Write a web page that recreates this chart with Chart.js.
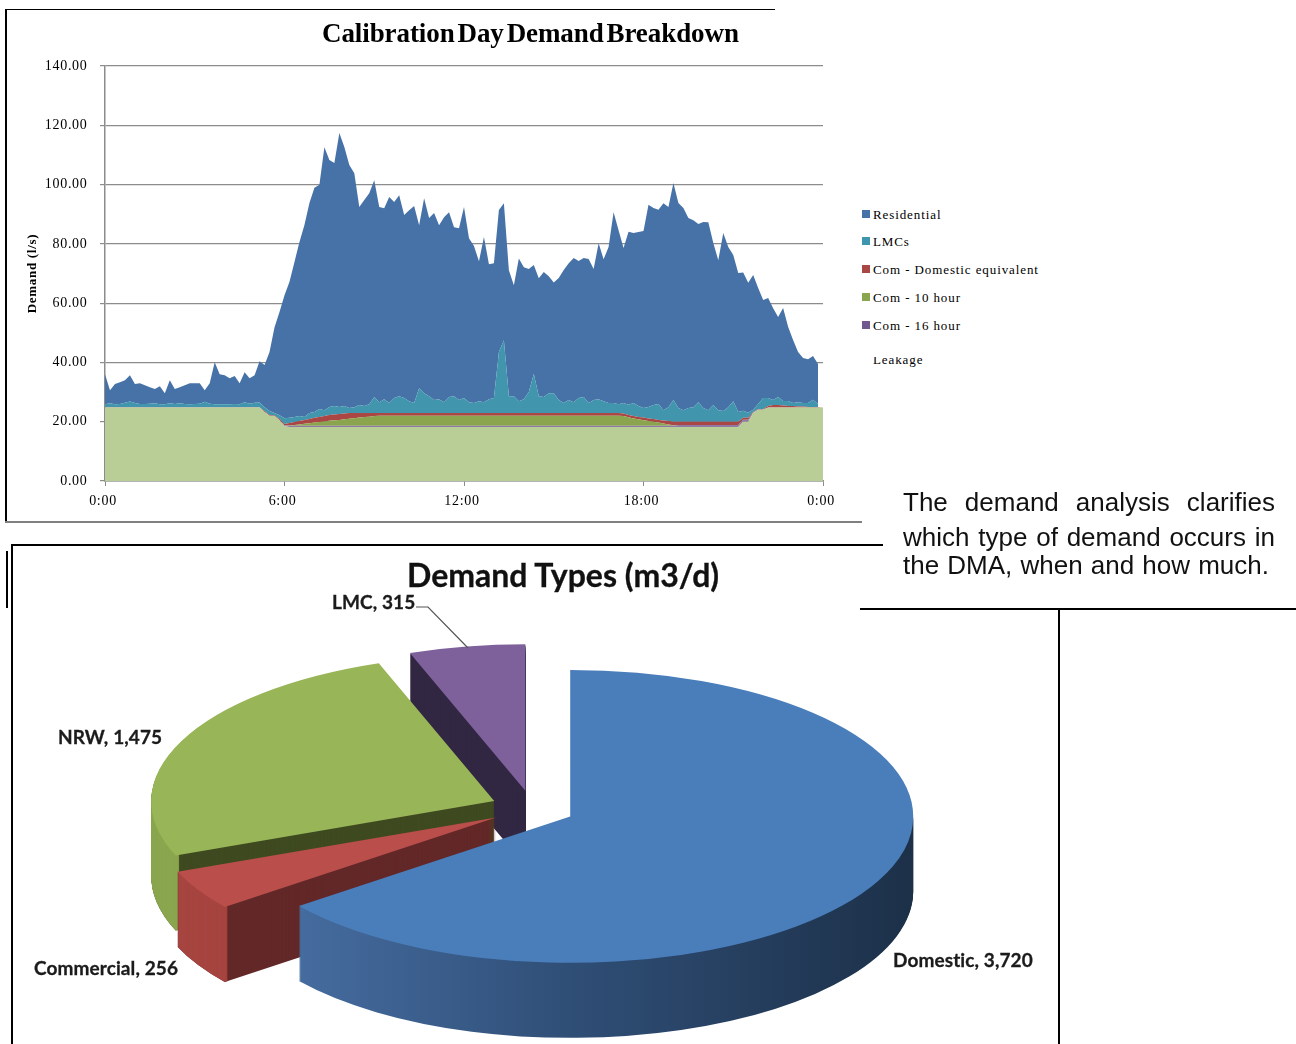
<!DOCTYPE html>
<html>
<head>
<meta charset="utf-8">
<title>Demand analysis</title>
<script src="https://cdn.jsdelivr.net/npm/chart.js"></script>
<style>
  html, body { margin: 0; padding: 0; background: #fff; }
  #page { position: relative; width: 1296px; height: 1044px; overflow: hidden; }
  #page canvas { position: absolute; display: block; }
  .rule { position: absolute; background: #000; }
  .txt { position: absolute; white-space: nowrap; line-height: 1; }
  .serif { font-family: "Liberation Serif", serif; color: #000; }
  .head { font-weight: bold; font-size: 27px; word-spacing: -3.8px; letter-spacing: -0.08px; }
  .pieTitle { font-family: Lato, sans-serif; font-weight: bold; font-size: 32px; color: #111; -webkit-text-stroke: 0.3px #111; }
  .pieLabel { font-family: Lato, sans-serif; font-weight: bold; font-size: 19px; letter-spacing: 0.1px; color: #1b1b1b; -webkit-text-stroke: 0.3px #1b1b1b; }
  .legend { font-size: 13px; letter-spacing: 0.9px; }
  .swatch { position: absolute; width: 8px; height: 8px; }
  .para { position: absolute; left: 903px; font-family: "Liberation Sans", sans-serif; font-size: 26px; line-height: 30px; color: #111; text-align: justify; text-align-last: justify; white-space: normal; }
</style>
</head>
<body>
<div id="page">
  <canvas id="areaChart" width="862" height="522" style="left:0;top:0"></canvas>
  <canvas id="pieChart" width="1296" height="504" style="left:0;top:540px"></canvas>

  <div class="rule" style="left:5px;top:9px;width:770px;height:1px"></div>
  <div class="rule" style="left:5px;top:9px;width:1.5px;height:513px"></div>
  <div class="rule" style="left:5px;top:521px;width:857px;height:1.5px;background:#808080"></div>
  <div class="rule" style="left:11px;top:544px;width:872px;height:1.5px"></div>
  <div class="rule" style="left:11px;top:544px;width:1.5px;height:500px"></div>
  <div class="rule" style="left:6px;top:551px;width:1.5px;height:57px"></div>
  <div class="rule" style="left:860px;top:608px;width:436px;height:1.5px"></div>
  <div class="rule" style="left:1058px;top:608px;width:1.5px;height:436px"></div>

  <div class="txt serif head" style="left:322px;top:20px">Calibration Day Demand Breakdown</div>
  <div id="legend"></div>
  <div class="txt pieTitle" style="left:407px;top:559px">Demand Types (m3/d)</div>
  <div id="pieLabels"></div>
  <svg style="position:absolute;left:0;top:0" width="1296" height="1044">
    <polyline points="416,607 428,607 468,648" fill="none" stroke="#555" stroke-width="1.2"/>
  </svg>

  <div class="para" style="top:487px;width:372px">The demand analysis clarifies</div>
  <div class="para" style="top:522px;width:372px">which type of demand occurs in</div>
  <div class="para" style="top:550px;width:366px">the DMA, when and how much.</div>
</div>

<script>
// values every 10 minutes, l/s, stack order leakage -> residential
const seriesNames = ['Residential', 'LMCs', 'Com - Domestic equivalent', 'Com - 10 hour', 'Com - 16 hour', 'Leakage'];
const seriesColors = ['#4672a7', '#4196ae', '#aa4643', '#8ba54e', '#8f7aa6', '#b9cd96'];
const swatchColors = ['#4572a7', '#3d96ae', '#aa4643', '#89a54e', '#71588f', null];

const residential = [
  10.1,4.4,6.8,7.3,7.6,8.9,6.4,7.0,6.3,5.5,
  4.8,6.1,3.7,7.8,5.0,5.4,6.3,7.1,7.0,6.9,
  3.9,6.9,14.2,10.1,9.8,8.8,9.4,7.1,10.1,8.6,
  9.3,13.9,14.2,19.9,29.0,34.8,41.5,45.9,52.3,58.7,
  64.8,70.9,75.6,75.6,88.7,83.3,82.0,92.4,87.4,82.0,
  78.9,66.8,69.5,71.2,73.2,65.8,64.4,69.5,66.1,67.8,
  61.7,64.4,66.5,55.0,65.8,60.1,63.1,58.7,62.4,62.4,
  57.0,58.0,64.4,55.3,53.0,47.2,55.7,45.5,45.5,47.9,
  46.2,42.5,37.4,48.2,44.5,41.5,36.8,39.8,42.2,39.5,
  37.4,41.2,44.9,46.2,48.6,46.2,46.9,48.6,44.2,52.6,
  47.9,52.6,64.4,58.7,52.3,58.4,57.4,58.7,59.7,68.2,
  66.5,65.5,69.8,67.5,73.2,69.2,68.2,64.1,63.1,60.1,
  62.8,63.4,54.7,50.6,60.1,54.0,49.3,46.9,46.6,43.9,
  45.5,39.1,33.1,33.7,31.0,27.0,31.4,25.0,21.3,16.9,
  15.2,14.8,14.8,13.5,null
];
const lmcs = [
  1.0,1.3,1.0,1.1,1.5,1.9,1.4,1.1,1.1,1.2,
  1.3,1.0,1.0,1.3,1.1,1.3,1.1,1.0,1.1,1.2,
  1.8,1.2,1.0,1.0,1.0,1.0,1.1,1.0,1.7,1.2,
  1.5,1.6,1.3,1.3,0.8,1.3,2.0,1.7,1.7,1.7,
  1.0,2.0,2.0,2.7,2.0,2.7,2.9,2.4,2.5,1.7,
  2.0,2.7,2.4,3.0,5.4,3.7,4.7,3.4,5.1,5.7,
  5.1,4.0,3.4,8.4,6.7,5.7,4.4,4.7,3.7,5.4,
  5.7,4.4,5.1,3.7,3.4,4.0,3.7,4.7,5.1,20.6,
  24.6,5.7,5.7,4.0,4.7,7.1,13.2,5.7,5.4,6.7,
  6.7,4.4,3.4,4.4,3.7,5.1,5.4,3.4,4.4,4.7,
  4.0,3.4,3.4,3.0,3.5,3.4,4.4,3.7,3.2,3.9,
  4.7,5.4,3.5,4.7,7.3,4.6,3.9,4.6,4.9,6.6,
  4.6,3.9,5.6,3.9,3.6,4.9,6.9,3.3,2.4,1.7,
  0.7,1.7,3.7,2.7,1.7,2.7,1.5,1.7,1.0,1.5,
  1.2,1.3,2.4,1.0,null
];
const comDomestic = [
  0.1,0.1,0.1,0.1,0.1,0.1,0.1,0.1,0.1,0.1,
  0.1,0.1,0.1,0.1,0.1,0.1,0.1,0.1,0.1,0.1,
  0.1,0.1,0.1,0.1,0.1,0.1,0.1,0.1,0.1,0.1,
  0.1,0.1,0.3,0.3,0.2,0.4,0.4,0.9,1.0,1.1,
  1.3,1.4,1.6,1.7,1.8,2.0,1.9,2.0,2.0,1.9,
  1.7,1.5,1.3,1.2,1.0,0.9,0.9,0.9,0.9,0.9,
  0.9,0.9,0.9,0.9,0.9,0.9,0.9,0.9,0.9,0.9,
  0.9,0.9,0.9,0.9,0.9,0.9,0.9,0.9,0.9,0.9,
  0.9,0.9,0.9,0.9,0.9,0.9,0.9,0.9,0.9,0.9,
  0.9,0.9,0.9,0.9,0.9,0.9,0.9,0.9,0.9,0.9,
  0.9,0.9,0.9,0.9,0.9,0.8,0.8,0.8,0.9,0.9,
  0.9,0.9,1.0,1.1,1.2,1.1,1.1,1.1,1.1,1.1,
  1.1,1.1,1.1,1.1,1.1,1.1,1.1,1.1,0.6,0.6,
  0.2,0.2,0.2,0.5,0.8,0.8,0.7,0.5,0.5,0.3,
  0.3,0.2,0.2,0.2,0
];
const com10 = [
  0,0,0,0,0,0,0,0,0,0,
  0,0,0,0,0,0,0,0,0,0,
  0,0,0,0,0,0,0,0,0,0,
  0,0,0,0,0,0,0,0.1,0.3,0.5,
  0.7,0.9,1.1,1.3,1.5,1.7,1.9,2.0,2.2,2.4,
  2.6,2.8,3.0,3.1,3.3,3.4,3.4,3.4,3.4,3.4,
  3.4,3.4,3.4,3.4,3.4,3.4,3.4,3.4,3.4,3.4,
  3.4,3.4,3.4,3.4,3.4,3.4,3.4,3.4,3.4,3.4,
  3.4,3.4,3.4,3.4,3.4,3.4,3.4,3.4,3.4,3.4,
  3.4,3.4,3.4,3.4,3.4,3.4,3.4,3.4,3.4,3.4,
  3.4,3.4,3.4,3.4,3.3,2.9,2.5,2.2,1.9,1.6,
  1.4,1.1,0.8,0.5,0.2,0,0,0,0,0,
  0,0,0,0,0,0,0,0,0,0,
  0,0,0,0,0,0,0,0,0,0,
  0,0,0,0,0
];
const com16 = [
  0,0,0,0,0,0,0,0,0,0,
  0,0,0,0,0,0,0,0,0,0,
  0,0,0,0,0,0,0,0,0,0,
  0,0,0,0,0,0,0.3,0.4,0.4,0.4,
  0.4,0.4,0.4,0.4,0.4,0.4,0.4,0.4,0.4,0.4,
  0.4,0.4,0.4,0.4,0.4,0.4,0.4,0.4,0.4,0.4,
  0.4,0.4,0.4,0.4,0.4,0.4,0.4,0.4,0.4,0.4,
  0.4,0.4,0.4,0.4,0.4,0.4,0.4,0.4,0.4,0.4,
  0.4,0.4,0.4,0.4,0.4,0.4,0.4,0.4,0.4,0.4,
  0.4,0.4,0.4,0.4,0.4,0.4,0.4,0.4,0.4,0.4,
  0.4,0.4,0.4,0.4,0.4,0.4,0.4,0.4,0.4,0.4,
  0.4,0.4,0.4,0.4,0.4,0.7,0.7,0.7,0.7,0.7,
  0.7,0.7,0.7,0.7,0.7,0.7,0.7,0.7,0.7,0.7,
  0.2,0.1,0.1,0,0,0,0,0,0,0,
  0,0,0,0,0
];
const leakage = [
  24.8,24.8,24.8,24.8,24.8,24.8,24.8,24.8,24.8,24.8,
  24.8,24.8,24.8,24.8,24.8,24.8,24.8,24.8,24.8,24.8,
  24.8,24.8,24.8,24.8,24.8,24.8,24.8,24.8,24.8,24.8,
  24.8,24.8,23.3,22.0,21.9,20.5,18.5,18.2,18.2,18.2,
  18.2,18.2,18.2,18.2,18.2,18.2,18.2,18.2,18.2,18.2,
  18.2,18.2,18.2,18.2,18.2,18.2,18.2,18.2,18.2,18.2,
  18.2,18.2,18.2,18.2,18.2,18.2,18.2,18.2,18.2,18.2,
  18.2,18.2,18.2,18.2,18.2,18.2,18.2,18.2,18.2,18.2,
  18.2,18.2,18.2,18.2,18.2,18.2,18.2,18.2,18.2,18.2,
  18.2,18.2,18.2,18.2,18.2,18.2,18.2,18.2,18.2,18.2,
  18.2,18.2,18.2,18.2,18.2,18.2,18.2,18.2,18.2,18.2,
  18.2,18.2,18.2,18.2,18.2,18.2,18.2,18.2,18.2,18.2,
  18.2,18.2,18.2,18.2,18.2,18.2,18.2,18.2,20.0,20.0,
  22.9,24.0,24.0,24.8,24.8,24.8,24.8,24.8,24.8,24.8,
  24.8,24.8,24.8,24.8,24.8
];

const pieNames = ['Domestic', 'Commercial', 'NRW', 'LMC'];
const pieValues = [3720, 256, 1475, 315];
const pieTop = ['#4a7ebb', '#b94e4b', '#98b657', '#7e609b'];
const pieRim = [null, '#a64440', '#8aa64e', null];
const pieCut = [null, '#632828', '#3f4a20', '#322742'];

/*
** Fixed plot box of the area chart
*/
function fixAxisWidth(scale) { scale.width = 105; }
function fixAxisHeight(scale) { scale.height = 41; }
function timeLabel(minutes) { return Math.floor((minutes % 1440) / 60) + ':00'; }

function areaDataset(name, values, color, fill) {
  return {
    label: name,
    data: values.map((v, i) => ({x: i * 10, y: v})),
    backgroundColor: color,
    borderWidth: 0,
    pointRadius: 0,
    tension: 0,
    fill: fill
  };
}

// the source axis text is set wide
const wideText = {
  id: 'wideText',
  beforeDraw(chart) { chart.ctx.letterSpacing = '0.7px'; }
};

Chart.defaults.font.family = '"Liberation Serif", serif';
Chart.defaults.color = '#000';

new Chart(document.getElementById('areaChart'), {
  type: 'line',
  data: {
    datasets: [
      areaDataset(seriesNames[5], leakage, seriesColors[5], 'origin'),
      areaDataset(seriesNames[4], com16, seriesColors[4], '-1'),
      areaDataset(seriesNames[3], com10, seriesColors[3], '-1'),
      areaDataset(seriesNames[2], comDomestic, seriesColors[2], '-1'),
      areaDataset(seriesNames[1], lmcs, seriesColors[1], '-1'),
      areaDataset(seriesNames[0], residential, seriesColors[0], '-1')
    ]
  },
  options: {
    responsive: false,
    animation: false,
    layout: {padding: {top: 66, right: 39, left: 0, bottom: 0}},
    plugins: {legend: {display: false}, title: {display: false}, tooltip: {enabled: false}},
    scales: {
      x: {
        type: 'linear', min: 0, max: 1440,
        afterFit: fixAxisHeight,
        grid: {drawOnChartArea: false, color: '#8a8a8a', tickLength: 5},
        border: {color: '#8a8a8a', width: 1.5},
        ticks: {stepSize: 360, font: {size: 14}, padding: 7, labelOffset: -2, maxRotation: 0, callback: timeLabel}
      },
      y: {
        stacked: true, min: 0, max: 140,
        afterFit: fixAxisWidth,
        grid: {color: '#8c8c8c', lineWidth: 1.2, tickLength: 5},
        border: {color: '#8c8c8c', width: 1.5},
        ticks: {stepSize: 20, font: {size: 14}, padding: 12.5, callback: v => v.toFixed(2)},
        title: {display: true, text: 'Demand (l/s)', font: {size: 13, weight: 'bold'}, padding: {top: 25, bottom: 0}}
      }
    }
  },
  plugins: [wideText]
});

// legend block, the last entry is cut off at the top in the source
const legendBox = document.getElementById('legend');
const legendY = [214, 241, 269, 297, 325];
seriesNames.forEach((name, i) => {
  if (i < 5) {
    legendBox.insertAdjacentHTML('beforeend',
      `<div class="swatch" style="left:862px;top:${legendY[i] - 4}px;background:${swatchColors[i]}"></div>` +
      `<div class="txt serif legend" style="left:873px;top:${legendY[i] - 6.5}px">${name}</div>`);
  } else {
    legendBox.insertAdjacentHTML('beforeend',
      `<div style="position:absolute;left:873px;top:357px;width:80px;height:12px;overflow:hidden">` +
      `<div class="txt serif legend" style="left:0;top:-4px">${name}</div></div>`);
  }
});

/*
** Pie seen at an angle: squash the arcs, and stack them downwards for the side walls
*/
const pieView = {centerX: 532.5, centerY: 268.5, squash: 0.427, depth: 75, explode: 42};

const tiltedPie = {
  id: 'tiltedPie',
  beforeDatasetsDraw(chart) {
    const ctx = chart.ctx;
    const arcs = chart.getDatasetMeta(0).data;
    const drawAt = (el, drop, color, band, wallStart) => {
      const mid = (el.startAngle + el.endAngle) / 2;
      const base = el.options;
      const inner = el.innerRadius;
      const start = el.startAngle;
      ctx.save();
      ctx.translate(pieView.centerX, pieView.centerY + drop);
      ctx.scale(1, pieView.squash);
      ctx.translate(-el.x, -el.y);
      ctx.translate(Math.cos(mid) * pieView.explode, Math.sin(mid) * pieView.explode);
      el.options = Object.assign({}, base, {backgroundColor: color});
      if (band) el.innerRadius = el.outerRadius - band;
      if (wallStart !== undefined) el.startAngle = wallStart;
      el.draw(ctx);
      el.innerRadius = inner;
      el.startAngle = start;
      el.options = base;
      ctx.restore();
    };
    // back to front
    for (let i = arcs.length - 1; i >= 0; i--) {
      if (pieCut[i]) {
        for (let d = pieView.depth; d > 0; d--) drawAt(arcs[i], d, pieCut[i], 0);
      }
      if (i === 0) {
        // only the front half of the big slice shows a wall
        const rim = ctx.createLinearGradient(arcs[0].x - 272, 0, arcs[0].x + 343, 0);
        rim.addColorStop(0, '#456c9f');
        rim.addColorStop(0.45, '#2f4e76');
        rim.addColorStop(1, '#1c3048');
        for (let d = pieView.depth; d > 0; d--) drawAt(arcs[0], d, rim, 24, 0);
      } else if (pieRim[i]) {
        for (let d = pieView.depth; d > 0; d--) drawAt(arcs[i], d, pieRim[i], 4);
      }
      drawAt(arcs[i], 0, pieTop[i], 0);
    }
    return false;
  }
};

new Chart(document.getElementById('pieChart'), {
  type: 'pie',
  data: {
    labels: pieNames,
    datasets: [{data: pieValues, backgroundColor: pieTop, borderWidth: 0, clip: false}]
  },
  options: {
    responsive: false,
    animation: false,
    radius: 343,
    plugins: {legend: {display: false}, title: {display: false}, tooltip: {enabled: false}}
  },
  plugins: [tiltedPie]
});

// slice labels as "name, value"
const pieLabelPos = [[893, 950], [34, 958], [58, 727], [332, 592]];
const pieBox = document.getElementById('pieLabels');
pieNames.forEach((name, i) => {
  pieBox.insertAdjacentHTML('beforeend',
    `<div class="txt pieLabel" style="left:${pieLabelPos[i][0]}px;top:${pieLabelPos[i][1]}px">${name}, ${pieValues[i].toLocaleString('en-US')}</div>`);
});
</script>
</body>
</html>
